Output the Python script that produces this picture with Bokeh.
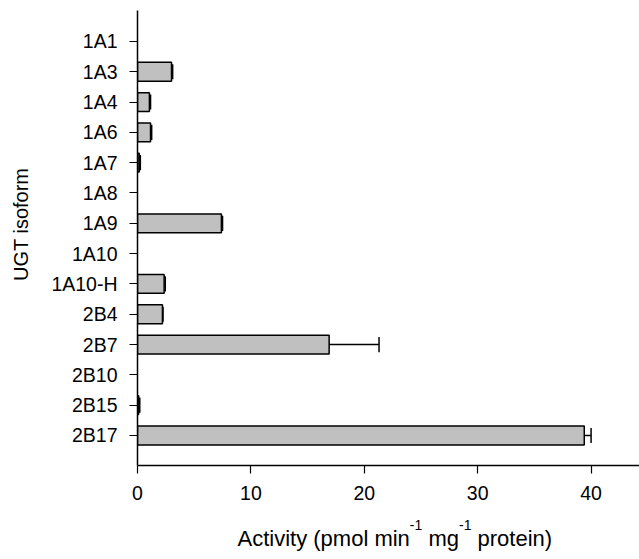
import math
from bokeh.plotting import figure
from bokeh.layouts import row, column
from bokeh.models import FixedTicker, Range1d, ColumnDataSource
from bokeh.core.properties import value
from bokeh.embed import file_html
from bokeh.resources import INLINE

isoforms = ["1A1", "1A3", "1A4", "1A6", "1A7", "1A8", "1A9", "1A10",
            "1A10-H", "2B4", "2B7", "2B10", "2B15", "2B17"]
activity = [0.0, 3.0, 1.05, 1.15, 0.15, 0.0, 7.4, 0.0,
            2.35, 2.2, 16.9, 0.0, 0.1, 39.4]
errors = [0.0, 0.1, 0.1, 0.1, 0.1, 0.0, 0.1, 0.0,
          0.1, 0.05, 4.4, 0.0, 0.1, 0.6]
x_ticks = [0, 10, 20, 30, 40]
y_title = "UGT isoform"
x_title_parts = ["Activity (pmol min", "-1", "mg", "-1", "protein)"]

n = len(isoforms)
ypos = [n - 1 - i for i in range(n)]

FONT = "Liberation Sans"
TOP_H = 515      # height of the plot row
YT_W = 40        # width of the y-title strip
XT_H = 559 - TOP_H

p = figure(width=639 - YT_W, height=TOP_H, output_backend="svg",
           toolbar_location=None,
           x_range=Range1d(0, 44.27), y_range=Range1d(-0.99, n - 1 + 1.02),
           min_border_left=137 - YT_W, min_border_right=0, min_border_top=10,
           min_border_bottom=TOP_H - 465)
p.outline_line_color = None
p.xgrid.visible = False
p.ygrid.visible = False

keep = [i for i in range(n) if activity[i] > 0]
bars = ColumnDataSource(dict(
    y=[ypos[i] for i in keep],
    v=[activity[i] for i in keep],
    lo=[activity[i] for i in keep],
    hi=[activity[i] + errors[i] for i in keep],
    c0=[ypos[i] - 0.25 for i in keep],
    c1=[ypos[i] + 0.25 for i in keep],
))
p.hbar(y="y", left=0, right="v", height=0.62, source=bars,
       fill_color="#c0c0c0", line_color="black", line_width=1.5)
p.segment(x0="lo", y0="y", x1="hi", y1="y", source=bars,
          line_color="black", line_width=1.5)
p.segment(x0="hi", y0="c0", x1="hi", y1="c1", source=bars,
          line_color="black", line_width=1.5)

p.xaxis.ticker = FixedTicker(ticks=x_ticks)
p.yaxis.ticker = FixedTicker(ticks=ypos)
p.yaxis.major_label_overrides = {ypos[i]: isoforms[i] for i in range(n)}
for ax in (p.xaxis[0], p.yaxis[0]):
    ax.axis_line_color = "black"
    ax.axis_line_width = 1.5
    ax.major_tick_line_color = "black"
    ax.major_tick_line_width = 1.2
    ax.major_tick_out = 8
    ax.major_tick_in = 0
    ax.minor_tick_line_color = None
    ax.major_label_text_font = FONT
    ax.major_label_text_font_size = "19.5px"
    ax.major_label_text_color = "black"
p.xaxis.major_label_standoff = 12
p.yaxis.major_label_standoff = 12


def strip(w, h):
    f = figure(width=w, height=h, output_backend="svg", toolbar_location=None,
               x_range=Range1d(0, w), y_range=Range1d(0, h),
               min_border=0)
    f.axis.visible = False
    f.grid.visible = False
    f.outline_line_color = None
    return f


# y title strip (pixel coordinates, origin bottom-left)
ys = strip(YT_W, TOP_H)
ys.text(x=[20], y=[TOP_H - 242], text=[y_title], angle=math.pi / 2,
        text_align="center", text_baseline="alphabetic",
        text_font=value(FONT), text_font_size=value("20px"),
        text_color="black")

# x title strip with superscripts (Arial/Liberation advance widths, em/1000)
W = {"A": 667, "c": 500, "t": 278, "i": 222, "v": 500, "y": 500, " ": 278,
     "(": 333, "p": 556, "m": 833, "o": 556, "l": 222, "n": 556, "g": 556,
     "r": 333, "e": 556, ")": 333, "-": 333, "1": 556}


def tw(s, size):
    return sum(W[c] for c in s) / 1000.0 * size


xs = strip(639, XT_H)
F, S = 22, 14
cx = 237.0
for part in x_title_parts:
    sup = part == "-1"
    size = S if sup else F
    ty = (559 - 530 + 0.41 * S) if sup else (559 - 547 + 0.41 * F)
    xs.text(x=[cx], y=[ty], text=[part],
            text_align="left", text_baseline="alphabetic",
            text_font=value(FONT), text_font_size=value(f"{size}px"),
            text_color="black")
    cx += tw(part, size)
    if sup:
        cx += tw(" ", F)

layout = column(row(ys, p, spacing=0), xs, spacing=0)
open("out.html", "w").write(file_html(layout, INLINE))
